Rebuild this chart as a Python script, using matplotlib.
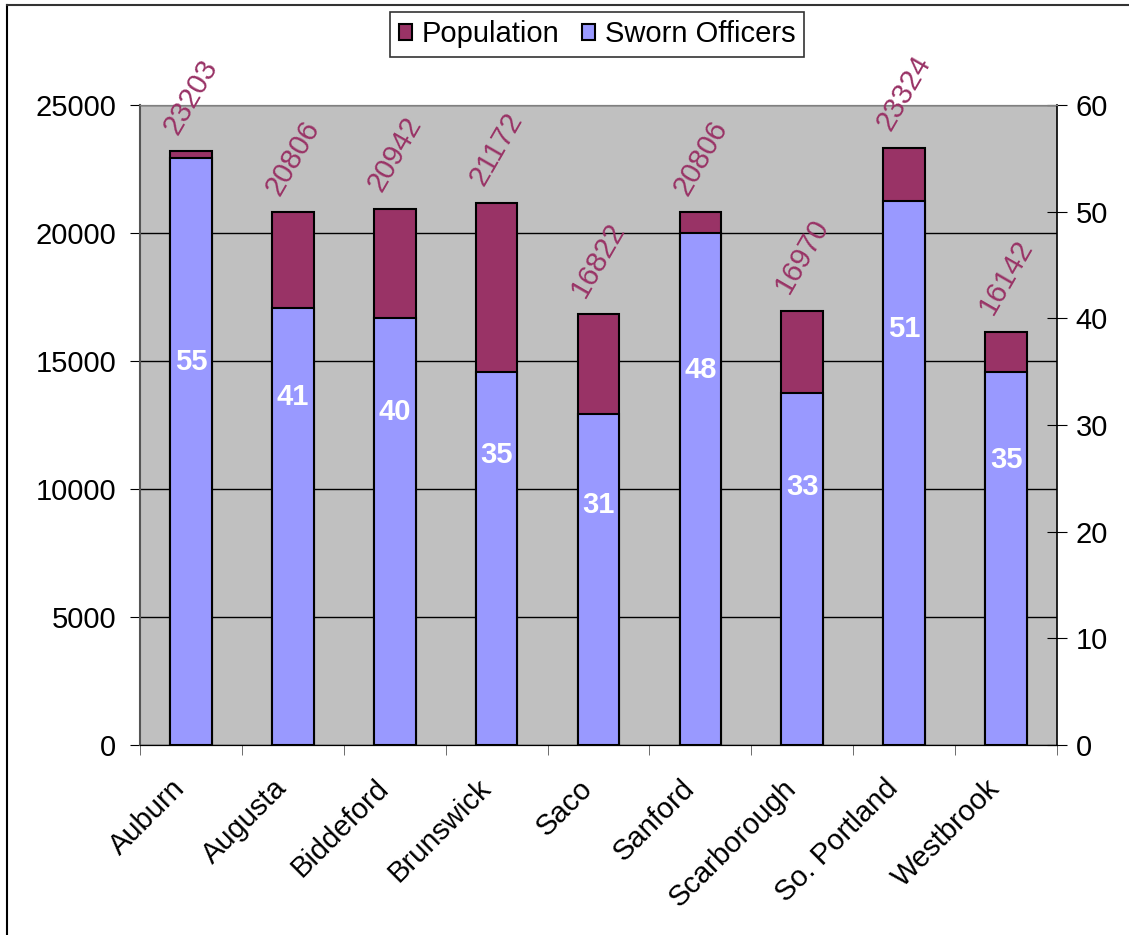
import numpy as np
import matplotlib
matplotlib.use('Agg')
from matplotlib import pyplot as plt
from matplotlib.lines import Line2D

plt.rcParams['font.family'] = ['Liberation Sans', 'DejaVu Sans']

cities = ['Auburn', 'Augusta', 'Biddeford', 'Brunswick', 'Saco', 'Sanford',
          'Scarborough', 'So. Portland', 'Westbrook']
population = [23203, 20806, 20942, 21172, 16822, 20806, 16970, 23324, 16142]
officers = [55, 41, 40, 35, 31, 48, 33, 51, 35]
# where the white officer labels sit (right axis units)
officer_label_y = [35.9, 32.6, 31.2, 27.2, 22.5, 35.2, 24.2, 39.0, 26.7]

pop_color = '#993366'
off_color = '#9999FF'
FS = 21

fig = plt.figure(figsize=(11.29, 9.35), dpi=100)
ax = fig.add_axes([140/1129, 1 - 745/935, 917/1129, 640/935])
ax2 = ax.twinx()

x = np.arange(len(cities))
w = 0.41

ax.set_facecolor('#C0C0C0')
ax.bar(x, population, w, color=pop_color, edgecolor='black', linewidth=1.5,
       label='Population', zorder=2)
ax2.bar(x, officers, w, color=off_color, edgecolor='black', linewidth=1.5,
        label='Sworn Officers', zorder=2)

ax.set_axisbelow(True)
ax.yaxis.grid(True, color='black', linewidth=1)
ax.set_ylim(0, 25000)
ax.set_yticks(np.arange(0, 25001, 5000))
ax2.set_ylim(0, 60)
ax2.set_yticks(np.arange(0, 61, 10))
ax.set_xlim(-0.5, len(cities) - 0.5)

# population labels, rotated above the bars
for xi, p in zip(x, population):
    ax2.annotate(str(p), (xi, p * 60 / 25000), xytext=(0, 9), textcoords='offset points',
                 rotation=60, ha='center', va='bottom', color=pop_color,
                 fontsize=FS, annotation_clip=False)

# officer labels in the blue bars
for xi, o, ly in zip(x, officers, officer_label_y):
    ax2.text(xi, ly, str(o), ha='center', va='center', color='white',
             fontsize=FS, fontweight='bold')

# x axis: labels (invisible major ticks, nudged left like excel does), ticks at boundaries
ax.set_xticks(x - 0.1)
ax.set_xticklabels(cities, rotation=45, ha='right', va='center',
                   rotation_mode='anchor', fontsize=FS)
ax.set_xticks(np.arange(-0.5, len(cities), 1), minor=True)
ax.tick_params(axis='x', which='major', length=0, pad=28)
ax.tick_params(axis='x', which='minor', length=7, direction='out', color='#555555')
ax.tick_params(axis='y', length=7, direction='out', labelsize=FS, pad=10)
ax2.tick_params(axis='y', length=15, direction='inout', labelsize=FS, pad=6)

ax.spines['top'].set_color('#808080')
ax2.spines['top'].set_color('#808080')
ax.spines['left'].set_color('#555555')
ax.spines['left'].set_linewidth(1.5)
ax2.spines['left'].set_visible(False)
ax.spines['right'].set_visible(False)
ax2.spines['right'].set_color('black')
ax2.spines['right'].set_linewidth(1.2)
ax.spines['bottom'].set_color('black')

h1, l1 = ax.get_legend_handles_labels()
h2, l2 = ax2.get_legend_handles_labels()
leg = fig.legend(h1 + h2, l1 + l2, loc='center', bbox_to_anchor=(597/1129, 1 - 34.5/935),
                 ncol=2, fontsize=FS, frameon=True, fancybox=False, edgecolor='black',
                 handlelength=0.45, handleheight=0.45, handletextpad=0.35,
                 columnspacing=0.75, borderpad=0.3, borderaxespad=0)
leg.get_frame().set_linewidth(1.2)

# outer chart border
fig.add_artist(Line2D([7/1129, 7/1129], [0, 1 - 5/935], transform=fig.transFigure,
                      color='black', linewidth=1.5))
fig.add_artist(Line2D([7/1129, 1], [1 - 5/935, 1 - 5/935], transform=fig.transFigure,
                      color='#333333', linewidth=1.5))

fig.savefig('out.png', dpi=100)
